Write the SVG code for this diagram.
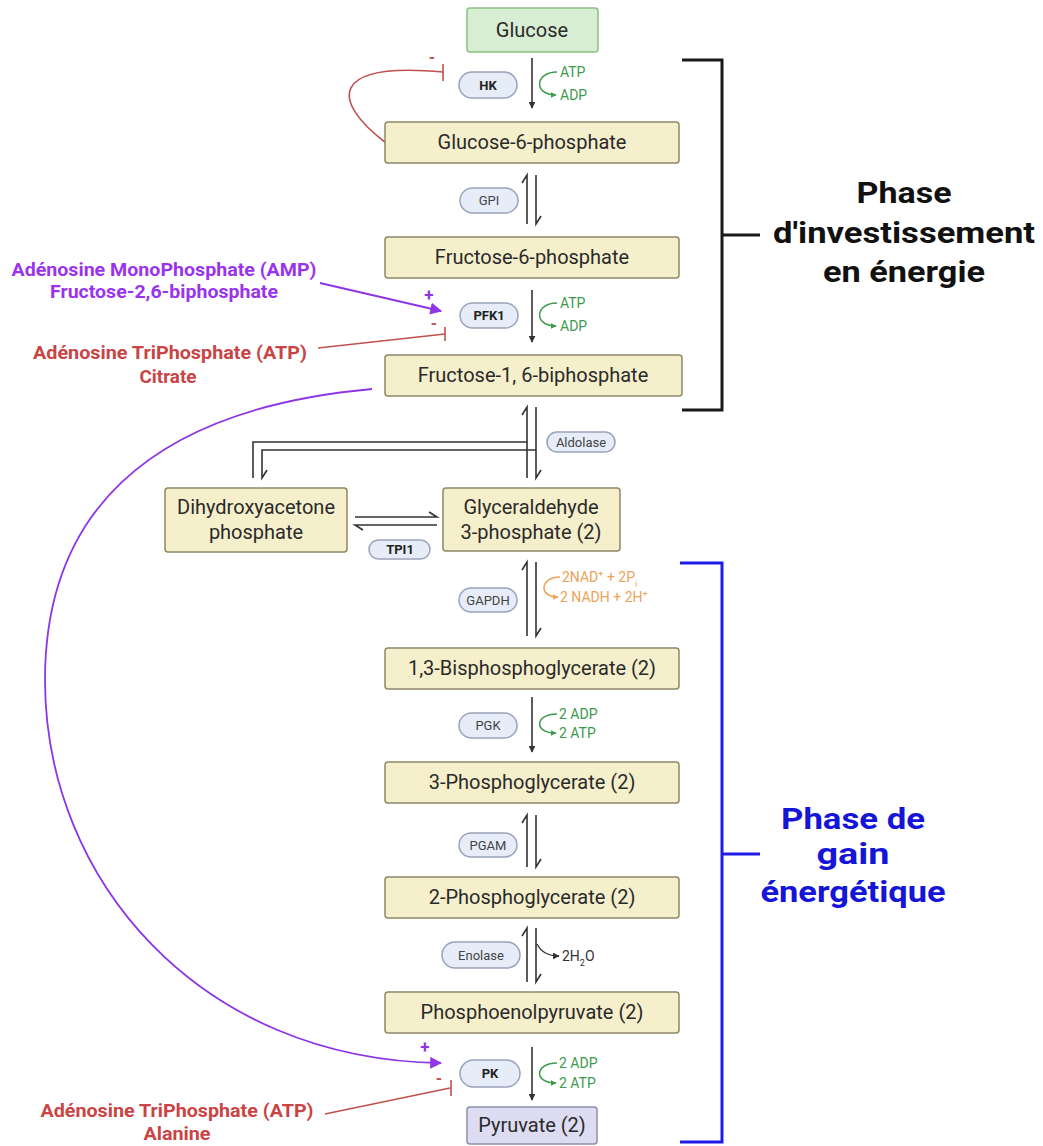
<svg xmlns="http://www.w3.org/2000/svg" width="1043" height="1146" viewBox="0 0 1043 1146">
<defs>
<style>
.box{fill:#f6efcc;stroke:#8e8868;stroke-width:1.5}
.pill{fill:#e6edf8;stroke:#99a3ba;stroke-width:1.5}
.t{font-family:Roboto,"Liberation Sans",sans-serif;font-size:20px;fill:#2a2a2a;text-anchor:middle}
.e{font-family:Roboto,"Liberation Sans",sans-serif;font-size:13px;fill:#444;text-anchor:middle}
.eb{font-weight:bold;fill:#222}
.c{font-family:Roboto,"Liberation Sans",sans-serif;font-size:14px}
.ln{stroke:#333;stroke-width:1.6;fill:none}
.gr{stroke:#3c9a4d;stroke-width:1.5;fill:none}
.or{stroke:#eea257;stroke-width:1.5;fill:none}
.pu{stroke:#8e35e6;stroke-width:1.8;fill:none}
.rd{stroke:#c0504d;stroke-width:1.6;fill:none}
.lab{font-family:Roboto,"Liberation Sans",sans-serif;font-weight:bold;text-anchor:middle}
</style>
<marker id="ab" viewBox="0 0 10 10" refX="9" refY="5" markerWidth="7" markerHeight="7" orient="auto" markerUnits="userSpaceOnUse"><path d="M0,0 L10,5 L0,10 z" fill="#333"/></marker>
<marker id="ag" viewBox="0 0 10 10" refX="9" refY="5" markerWidth="6" markerHeight="6" orient="auto" markerUnits="userSpaceOnUse"><path d="M0,0 L10,5 L0,10 z" fill="#3c9a4d"/></marker>
<marker id="ao" viewBox="0 0 10 10" refX="9" refY="5" markerWidth="6" markerHeight="6" orient="auto" markerUnits="userSpaceOnUse"><path d="M0,0 L10,5 L0,10 z" fill="#eea257"/></marker>
<marker id="ap" viewBox="0 0 10 10" refX="9" refY="5" markerWidth="12" markerHeight="12" orient="auto" markerUnits="userSpaceOnUse"><path d="M0,0 L10,5 L0,10 z" fill="#8e35e6"/></marker>
</defs>
<rect width="1043" height="1146" fill="#ffffff"/>

<g id="connectors">
  <!-- HK -->
  <path class="ln" d="M532,58 V108" marker-end="url(#ab)"/>
  <path class="gr" d="M557,72 C535,72 533,95 556,95" marker-end="url(#ag)"/>
  <!-- GPI -->
  <path class="ln" d="M527,224 V175 l-5,8"/>
  <path class="ln" d="M536,175 V224 l5,-8"/>
  <!-- PFK1 -->
  <path class="ln" d="M532,290 V342" marker-end="url(#ab)"/>
  <path class="gr" d="M557,303 C535,303 533,326 556,326" marker-end="url(#ag)"/>
  <!-- Aldolase -->
  <path class="ln" d="M527,478 V407 l-5,8"/>
  <path class="ln" d="M536,407 V478 l5,-8"/>
  <path class="ln" d="M527,442 H253 V478"/>
  <path class="ln" d="M536,450 H262 V478 l5,-8"/>
  <!-- TPI -->
  <path class="ln" d="M355,517 H437 l-8,-5"/>
  <path class="ln" d="M437,525 H355 l8,5"/>
  <!-- GAPDH -->
  <path class="ln" d="M527,636 V562 l-5,8"/>
  <path class="ln" d="M536,562 V636 l5,-8"/>
  <path class="or" d="M560,577 C540,577 538,597 558,597" marker-end="url(#ao)"/>
  <!-- PGK -->
  <path class="ln" d="M532,697 V752" marker-end="url(#ab)"/>
  <path class="gr" d="M557,714 C535,714 533,733 556,733" marker-end="url(#ag)"/>
  <!-- PGAM -->
  <path class="ln" d="M527,867 V815 l-5,8"/>
  <path class="ln" d="M536,815 V867 l5,-8"/>
  <!-- Enolase -->
  <path class="ln" d="M527,982 V928 l-5,8"/>
  <path class="ln" d="M536,928 V982 l5,-8"/>
  <path class="ln" d="M537,944 Q543,956 559,956" marker-end="url(#ab)" style="stroke-width:1.3"/>
  <!-- PK -->
  <path class="ln" d="M532,1047 V1100" marker-end="url(#ab)"/>
  <path class="gr" d="M557,1063 C535,1063 533,1083 556,1083" marker-end="url(#ag)"/>

  <!-- regulation -->
  <path class="rd" d="M386,143 C330,100 330,62 443,72"/>
  <path class="rd" d="M443,64 V81"/>
  <path class="pu" d="M320,283 L441,311" marker-end="url(#ap)"/>
  <path class="rd" d="M318,348 L445,334"/>
  <path class="rd" d="M445,327 V341"/>
  <path class="pu" d="M372,389 C140,410 45,520 45,680 C45,880 200,1060 441,1063" marker-end="url(#ap)"/>
  <path class="rd" d="M325,1114 L450,1088"/>
  <path class="rd" d="M451,1080 V1096"/>
</g>

<g id="signs" class="lab">
  <text x="432" y="63" font-size="16" fill="#c0504d">-</text>
  <text x="429" y="301" font-size="17" fill="#8e35e6">+</text>
  <text x="434" y="329" font-size="16" fill="#c0504d">-</text>
  <text x="425" y="1053" font-size="17" fill="#8e35e6">+</text>
  <text x="439" y="1084" font-size="16" fill="#c0504d">-</text>
</g>

<g id="cofactors" class="c">
  <text x="560" y="77" fill="#3c9a4d">ATP</text>
  <text x="560" y="100" fill="#3c9a4d">ADP</text>
  <text x="560" y="308" fill="#3c9a4d">ATP</text>
  <text x="560" y="331" fill="#3c9a4d">ADP</text>
  <text x="562" y="582" fill="#eea257">2NAD<tspan font-size="9" baseline-shift="super">+</tspan> + 2P<tspan font-size="9" baseline-shift="sub">i</tspan></text>
  <text x="560" y="602" fill="#eea257">2 NADH + 2H<tspan font-size="9" baseline-shift="super">+</tspan></text>
  <text x="559" y="719" fill="#3c9a4d">2 ADP</text>
  <text x="559" y="738" fill="#3c9a4d">2 ATP</text>
  <text x="562" y="961" fill="#333">2H<tspan font-size="9" baseline-shift="sub">2</tspan>O</text>
  <text x="559" y="1068" fill="#3c9a4d">2 ADP</text>
  <text x="559" y="1088" fill="#3c9a4d">2 ATP</text>
</g>

<g id="glucose"><rect x="467" y="8" width="131" height="44" rx="3" fill="#d7eed3" stroke="#8cc084" stroke-width="1.5"/><text class="t" x="532" y="37">Glucose</text></g>
<g id="g6p"><rect class="box" x="385" y="122" width="294" height="41" rx="3"/><text class="t" x="532" y="149">Glucose-6-phosphate</text></g>
<g id="f6p"><rect class="box" x="385" y="237" width="294" height="41" rx="3"/><text class="t" x="532" y="264">Fructose-6-phosphate</text></g>
<g id="f16bp"><rect class="box" x="385" y="355" width="297" height="41" rx="3"/><text class="t" x="533" y="382">Fructose-1, 6-biphosphate</text></g>
<g id="dhap"><rect class="box" x="165" y="488" width="182" height="64" rx="3"/><text class="t" x="256" y="514">Dihydroxyacetone</text><text class="t" x="256" y="539">phosphate</text></g>
<g id="gap"><rect class="box" x="443" y="488" width="177" height="63" rx="3"/><text class="t" x="531" y="514">Glyceraldehyde</text><text class="t" x="531" y="539">3-phosphate (2)</text></g>
<g id="bpg13"><rect class="box" x="385" y="648" width="294" height="41" rx="3"/><text class="t" x="532" y="675">1,3-Bisphosphoglycerate (2)</text></g>
<g id="pg3"><rect class="box" x="385" y="762" width="294" height="41" rx="3"/><text class="t" x="532" y="789">3-Phosphoglycerate (2)</text></g>
<g id="pg2"><rect class="box" x="385" y="877" width="294" height="41" rx="3"/><text class="t" x="532" y="904">2-Phosphoglycerate (2)</text></g>
<g id="pep"><rect class="box" x="385" y="992" width="294" height="41" rx="3"/><text class="t" x="532" y="1019">Phosphoenolpyruvate (2)</text></g>
<g id="pyruvate"><rect x="467" y="1107" width="130" height="37" rx="3" fill="#dddcf3" stroke="#8f8eaa" stroke-width="1.5"/><text class="t" x="532" y="1132">Pyruvate (2)</text></g>

<g id="hk"><rect class="pill" x="459" y="72" width="58" height="26" rx="13"/><text class="e eb" x="488" y="90">HK</text></g>
<g id="gpi"><rect class="pill" x="460" y="188" width="58" height="25" rx="12.5"/><text class="e" x="489" y="205">GPI</text></g>
<g id="pfk1"><rect class="pill" x="460" y="303" width="58" height="25" rx="12.5"/><text class="e eb" x="489" y="320">PFK1</text></g>
<g id="aldolase"><rect class="pill" x="547" y="432" width="68" height="20" rx="10"/><text class="e" x="581" y="447">Aldolase</text></g>
<g id="tpi1"><rect class="pill" x="369" y="540" width="61" height="19" rx="9.5"/><text class="e eb" x="400" y="554">TPI1</text></g>
<g id="gapdh"><rect class="pill" x="459" y="588" width="58" height="24" rx="12"/><text class="e" x="488" y="605">GAPDH</text></g>
<g id="pgk"><rect class="pill" x="459" y="713" width="58" height="25" rx="12.5"/><text class="e" x="488" y="730">PGK</text></g>
<g id="pgam"><rect class="pill" x="459" y="833" width="58" height="24" rx="12"/><text class="e" x="488" y="850">PGAM</text></g>
<g id="enolase"><rect class="pill" x="442" y="942" width="78" height="26" rx="13"/><text class="e" x="481" y="960">Enolase</text></g>
<g id="pk"><rect class="pill" x="460" y="1060" width="60" height="27" rx="13.5"/><text class="e eb" x="490" y="1078">PK</text></g>

<g id="regulators" class="lab" font-size="18">
  <text x="164" y="276" fill="#9933ee" textLength="305" lengthAdjust="spacingAndGlyphs">Adénosine MonoPhosphate (AMP)</text>
  <text x="164" y="298" fill="#9933ee" textLength="228" lengthAdjust="spacingAndGlyphs">Fructose-2,6-biphosphate</text>
  <text x="170" y="359" fill="#c94444" textLength="274" lengthAdjust="spacingAndGlyphs">Adénosine TriPhosphate (ATP)</text>
  <text x="168" y="383" fill="#c94444" textLength="57" lengthAdjust="spacingAndGlyphs">Citrate</text>
  <text x="177" y="1117" fill="#c94444" textLength="273" lengthAdjust="spacingAndGlyphs">Adénosine TriPhosphate (ATP)</text>
  <text x="177" y="1140" fill="#c94444" textLength="67" lengthAdjust="spacingAndGlyphs">Alanine</text>
</g>

<g id="bracket-investment">
  <path d="M682,60 H722 V410 H682 M722,235 H760" fill="none" stroke="#1a1a1a" stroke-width="3"/>
  <g class="lab" font-size="30" fill="#111">
    <text x="904" y="203" textLength="95" lengthAdjust="spacingAndGlyphs">Phase</text>
    <text x="904" y="243" textLength="262" lengthAdjust="spacingAndGlyphs">d'investissement</text>
    <text x="904" y="282" textLength="162" lengthAdjust="spacingAndGlyphs">en énergie</text>
  </g>
</g>
<g id="bracket-gain">
  <path d="M680,563 H722 V1142 H680 M722,854 H760" fill="none" stroke="#1c1ce6" stroke-width="3"/>
  <g class="lab" font-size="30" fill="#1515d8">
    <text x="853" y="829" textLength="144" lengthAdjust="spacingAndGlyphs">Phase de</text>
    <text x="853" y="864" textLength="73" lengthAdjust="spacingAndGlyphs">gain</text>
    <text x="853" y="902" textLength="185" lengthAdjust="spacingAndGlyphs">énergétique</text>
  </g>
</g>
</svg>
